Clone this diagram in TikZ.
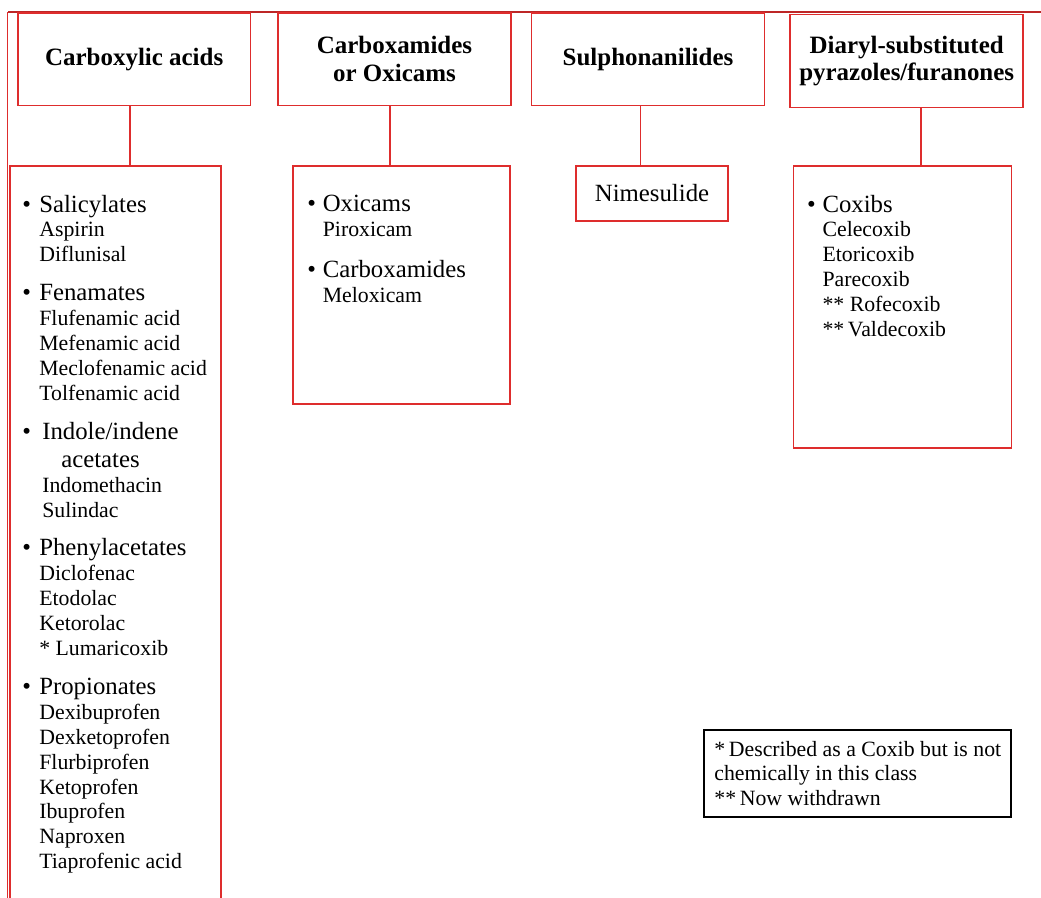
\documentclass[tikz,border=0pt]{standalone}
\usepackage{fontspec}
\setmainfont{Liberation Serif}
\definecolor{boxred}{RGB}{222,45,45}
\newlength{\indw}
\newcommand{\drugfont}{\fontsize{12.4}{14.17}\selectfont}
\newcommand{\catfont}{\fontsize{14.1}{14.17}\selectfont}
\newcommand{\catitem}[1]{\makebox[\indw][l]{\catfont\textbullet}{\catfont #1}}
\newcommand{\drug}[1]{\hspace*{\indw}#1}

\begin{document}
\begin{tikzpicture}[x=0.02cm, y=-0.02cm,
    headbox/.style={draw=boxred, line width=0.9pt, minimum width=4.66cm, minimum height=1.86cm,
        align=center, font={\fontsize{14.2}{15.9}\selectfont\bfseries}},
    childbox/.style={draw=boxred, line width=0.9pt, anchor=north west},
    druglist/.style={font={\drugfont\setlength{\indw}{#1}}, align=left, inner sep=0pt, anchor=north west},
    link/.style={draw=boxred, line width=0.9pt},
    notebox/.style={draw=black, line width=1.1pt, minimum width=6.14cm, minimum height=1.74cm,
        align=left, font=\drugfont}]
    \useasboundingbox (0,0) rectangle (1041,897);
    \clip (0,0) rectangle (1041,897);

    % frame
    \draw[boxred!85!black, line width=1.2pt] (1041,12) -- (7.5,12);
    \draw[boxred, line width=0.9pt] (7.5,12) -- (7.5,900);

    % class headings
    \node[headbox] (acidhead) at (134.2,59.2) {Carboxylic acids};
    \node[headbox] (oxihead) at (394.5,59.2) {Carboxamides\\or Oxicams};
    \node[headbox] (sulphohead) at (648,59.2) {Sulphonanilides};
    \node[headbox] (diarylhead) at (906.7,61) {Diaryl-substituted\\pyrazoles/furanones};

    % member boxes
    \node[childbox, minimum width=4.22cm, minimum height=15.2cm] (acidbox) at (9,165) {};
    \node[childbox, minimum width=4.35cm, minimum height=4.77cm] (oxibox) at (292,165) {};
    \node[childbox, minimum width=3.05cm, minimum height=1.1cm, font=\catfont] (nimebox) at (575,165) {Nimesulide};
    \node[childbox, minimum width=4.36cm, minimum height=5.65cm] (coxibox) at (792.7,165) {};

    \draw[link] (acidhead.south -| 130,0) -- (acidbox.north -| 130,0);
    \draw[link] (oxihead.south -| 390,0) -- (oxibox.north -| 390,0);
    \draw[link] (sulphohead.south -| 640.7,0) -- (nimebox.north -| 640.7,0);
    \draw[link] (diarylhead.south -| 920.7,0) -- (coxibox.north -| 920.7,0);

    % drug lists
    \node[druglist=0.34cm] (acidlist) at ([shift={(13,29.5)}]acidbox.north west) {%
        \catitem{Salicylates}\\
        \drug{Aspirin}\\
        \drug{Diflunisal}\\[8pt]
        \catitem{Fenamates}\\
        \drug{Flufenamic acid}\\
        \drug{Mefenamic acid}\\
        \drug{Meclofenamic acid}\\
        \drug{Tolfenamic acid}\\[8pt]
        \catitem{\hspace*{1.7pt}Indole/indene}\\[1.7pt]
        \hspace*{0.78cm}{\catfont acetates}\\
        \drug{\hspace*{1.7pt}Indomethacin}\\
        \drug{\hspace*{1.7pt}Sulindac}\\[8pt]
        \catitem{Phenylacetates}\\
        \drug{Diclofenac}\\
        \drug{Etodolac}\\
        \drug{Ketorolac}\\
        \drug{* Lumaricoxib}\\[8pt]
        \catitem{Propionates}\\
        \drug{Dexibuprofen}\\
        \drug{Dexketoprofen}\\
        \drug{Flurbiprofen}\\
        \drug{Ketoprofen}\\
        \drug{Ibuprofen}\\
        \drug{Naproxen}\\
        \drug{Tiaprofenic acid}};
    \node[druglist=0.31cm] (oxilist) at ([shift={(15,29.5)}]oxibox.north west) {%
        \catitem{Oxicams}\\
        \drug{Piroxicam}\\[9.5pt]
        \catitem{Carboxamides}\\
        \drug{Meloxicam}};
    \node[druglist=0.31cm] (coxilist) at ([shift={(14,29.5)}]coxibox.north west) {%
        \catitem{Coxibs}\\
        \drug{Celecoxib}\\
        \drug{Etoricoxib}\\
        \drug{Parecoxib}\\
        \drug{** Rofecoxib}\\
        \drug{**\,Valdecoxib}};

    % footnote
    \node[notebox] (note) at (857.8,773.5) {*\,Described as a Coxib but is not\\chemically in this class\\**\,Now withdrawn};
\end{tikzpicture}
\end{document}
